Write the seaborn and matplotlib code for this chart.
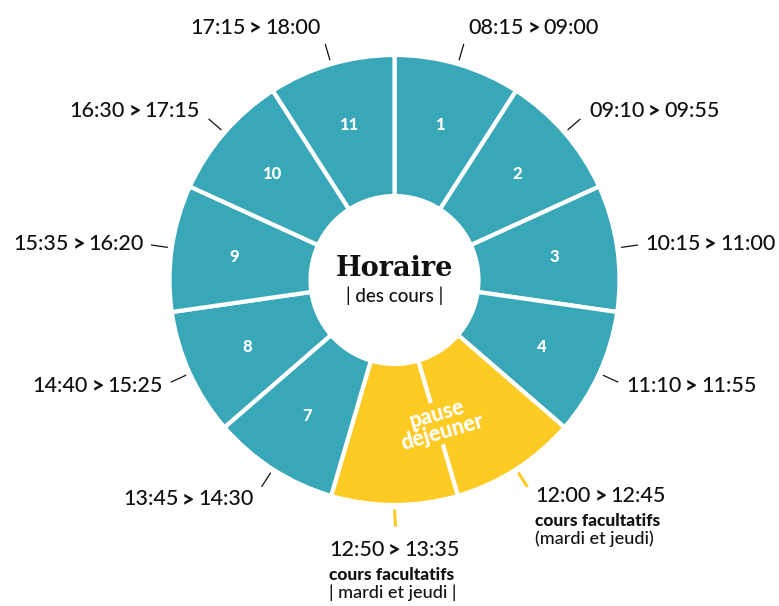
import numpy as np
import matplotlib
matplotlib.use("Agg")
import matplotlib.pyplot as plt
import seaborn as sns
from matplotlib.offsetbox import TextArea, HPacker, VPacker, AnnotationBbox

# ---------------- data ----------------
periods = ["1", "2", "3", "4", "", "", "7", "8", "9", "10", "11"]
starts = ["08:15", "09:10", "10:15", "11:10", "12:00", "12:50",
          "13:45", "14:40", "15:35", "16:30", "17:15"]
ends = ["09:00", "09:55", "11:00", "11:55", "12:45", "13:35",
        "14:30", "15:25", "16:20", "17:15", "18:00"]
kinds = ["cours", "cours", "cours", "cours", "pause", "pause",
         "cours", "cours", "cours", "cours", "cours"]
notes_title = ["", "", "", "", "cours facultatifs", "cours facultatifs",
               "", "", "", "", ""]
notes_sub = ["", "", "", "", "(mardi et jeudi)", "| mardi et jeudi |",
             "", "", "", "", ""]
center_title = "Horaire"
center_sub = "| des cours |"
pause_label = "pause\ndéjeuner"


def minutes(t):
    h, m = t.split(":")
    return int(h) * 60 + int(m)


durations = [minutes(e) - minutes(s) for s, e in zip(starts, ends)]

# ---------------- style ----------------
sns.set_theme(style="white")
plt.rcParams["font.family"] = ["Lato", "DejaVu Sans"]
TEAL = "#38A8B8"
YELLOW = "#FDCB23"
palette = sns.color_palette([TEAL, YELLOW])
color_of = {"cours": palette[0], "pause": palette[1]}

W, H = 779, 606
fig = plt.figure(figsize=(W / 100, H / 100), dpi=100)
ax = fig.add_axes([0, 0, 1, 1])

cx, cy = 394.5, H - 280
R_out, R_in = 225, 84

wedges, _ = ax.pie(durations, colors=[color_of[k] for k in kinds],
                   startangle=90, counterclock=False, radius=R_out,
                   center=(cx, cy),
                   wedgeprops=dict(width=R_out - R_in, edgecolor="white",
                                   linewidth=3))
ax.set_xlim(0, W)
ax.set_ylim(0, H)
ax.set_aspect("equal")
ax.axis("off")


def polar(r, a_deg):
    a = np.deg2rad(a_deg)
    return cx + r * np.sin(a), cy + r * np.cos(a)


total = sum(durations)
cum = np.cumsum([0] + durations)
INK = "#111111"
TXT = dict(fontsize=15.5, color=INK, fontweight="medium")
TXTB = dict(fontsize=15.5, color=INK, fontweight="black")

for i in range(len(durations)):
    a = (cum[i] + durations[i] / 2) / total * 360
    # period number
    if periods[i]:
        x, y = polar(162, a)
        ax.text(x, y, periods[i], color="white", fontsize=12,
                fontweight="black", ha="center", va="center")
    # tick
    tick_col = INK if kinds[i] == "cours" else YELLOW
    tick_lw = 0.9 if kinds[i] == "cours" else 2.2
    x0, y0 = polar(R_out + 4, a)
    x1, y1 = polar(R_out + 21, a)
    ax.plot([x0, x1], [y0, y1], color=tick_col, lw=tick_lw,
            solid_capstyle="butt")
    # time label
    time_box = HPacker(children=[TextArea(starts[i], textprops=TXT),
                                 TextArea(">", textprops=TXTB),
                                 TextArea(ends[i], textprops=TXT)],
                       align="center", pad=0, sep=2.5)
    s = np.sin(np.deg2rad(a))
    xa, ya = polar(264 - 11 * s ** 2, a)
    if notes_title[i]:
        note_box = VPacker(children=[
            TextArea(notes_title[i], textprops=dict(fontsize=12.5, fontweight="black",
                                                    color=INK)),
            TextArea(notes_sub[i], textprops=dict(fontsize=13, color=INK,
                                                  fontweight="medium"))],
            align="left", pad=0, sep=1)
        block = VPacker(children=[time_box, note_box], align="left", pad=0, sep=5)
        if abs(s) < 0.15:
            xa, ya = polar(259, a)
            ab = AnnotationBbox(block, (xa, ya), box_alignment=(0.5, 1),
                                frameon=False, pad=0)
        else:
            ab = AnnotationBbox(block, (xa, ya), xybox=(0, 10),
                                boxcoords="offset points",
                                box_alignment=(0 if s > 0 else 1, 1),
                                frameon=False, pad=0)
    else:
        if abs(s) < 0.15:
            align = (0.5, 1)
        else:
            align = (0 if s > 0 else 1, 0.5)
        ab = AnnotationBbox(time_box, (xa, ya), box_alignment=align,
                            frameon=False, pad=0)
    ax.add_artist(ab)

# lunch label over the two yellow wedges
lunch_idx = [i for i, k in enumerate(kinds) if k == "pause"]
a_l = (cum[lunch_idx[0]] + sum(durations[j] for j in lunch_idx) / 2) / total * 360
xl, yl = polar(150, a_l)
ax.text(xl + 3, yl + 1, pause_label, color="white", fontsize=15.5,
        fontweight="black", ha="center", va="center", rotation=16,
        linespacing=0.9, rotation_mode="anchor",
        bbox=dict(facecolor=YELLOW, edgecolor="none", pad=1))

# center text
ax.text(cx, cy + 12, center_title, fontsize=19.5, fontweight="heavy",
        fontfamily=["DejaVu Serif"], color=INK, ha="center", va="center")
ax.text(cx, cy - 16, center_sub, fontsize=13.5, color=INK,
        fontweight="medium", ha="center", va="center")

fig.savefig("out.png", dpi=100)
